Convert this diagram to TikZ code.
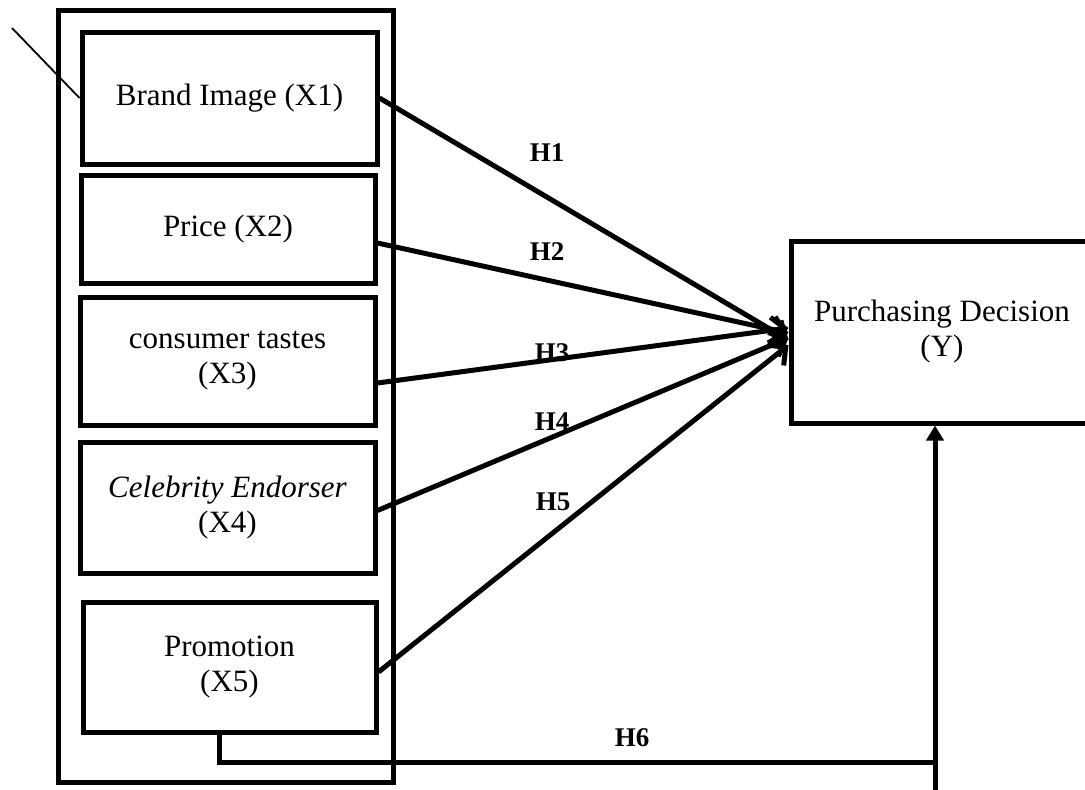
\documentclass[tikz,border=0pt]{standalone}
\usepackage{fontspec}
\setmainfont{Liberation Serif}
\usetikzlibrary{arrows.meta}

\begin{document}
\begin{tikzpicture}[x = 1pt, y = -1pt, > = {Straight Barb[length = 13pt, width = 26pt]},
	box/.style = {draw, line width = 5pt, align = center, font = \fontsize{31}{35}\selectfont},
	link/.style = {line width = 5pt, ->},
	hyp/.style = {font = \fontsize{27}{30}\selectfont\bfseries}]

	\useasboundingbox (0, 0) rectangle (1085, 790);

	\node [box, minimum width = 335, minimum height = 772] (frame) at (225.5, 396) {};

	\node [box, minimum width = 295, minimum height = 132] (x1) at (229.5, 98) {Brand Image (X1)};
	\node [box, minimum width = 294, minimum height = 108] (x2) at (228, 229) {Price (X2)};
	\node [box, minimum width = 295, minimum height = 128] (x3) at (227.5, 361) {consumer tastes\\(X3)};
	\node [box, minimum width = 295, minimum height = 131] (x4) at (227.5, 507.5) {\textit{Celebrity Endorser}\\(X4)};
	\node [box, minimum width = 293, minimum height = 130] (x5) at (229.5, 667) {Promotion\\(X5)};

	\node [box, minimum width = 302, minimum height = 182] (y) at (942, 332) {Purchasing Decision\\(Y)};

	\coordinate (tick) at (12, 28);
	\draw [line width = 1.8pt] (tick) -- (x1.west);

	\draw [link] (x1.east) -- ([yshift = -8]y.west);
	\draw [link] ([yshift = -14]x2.east) -- ([yshift = -1]y.west);
	\draw [link] ([yshift = -22]x3.east) -- ([yshift = 4]y.west);
	\draw [link] ([yshift = -3]x4.east) -- ([yshift = -6]y.west);
	\draw [link] ([yshift = -5]x5.east) -- ([yshift = -13]y.west);

	\node [hyp] (h1) at (547, 153) {H1};
	\node [hyp] (h2) at (547, 252) {H2};
	\node [hyp] (h3) at (552, 353) {H3};
	\node [hyp] (h4) at (552, 422) {H4};
	\node [hyp] (h5) at (553, 502) {H5};
	\node [hyp] (h6) at (632, 738) {H6};

	\coordinate (bend) at (935, 762);
	\coordinate (foot) at (935, 795);
	\draw [line width = 5pt] ([xshift = -10.5]x5.south) |- (bend);
	\draw [line width = 5pt, -{Triangle[length = 15pt, width = 17pt]}] (foot) -- (foot |- y.south);

\end{tikzpicture}
\end{document}
